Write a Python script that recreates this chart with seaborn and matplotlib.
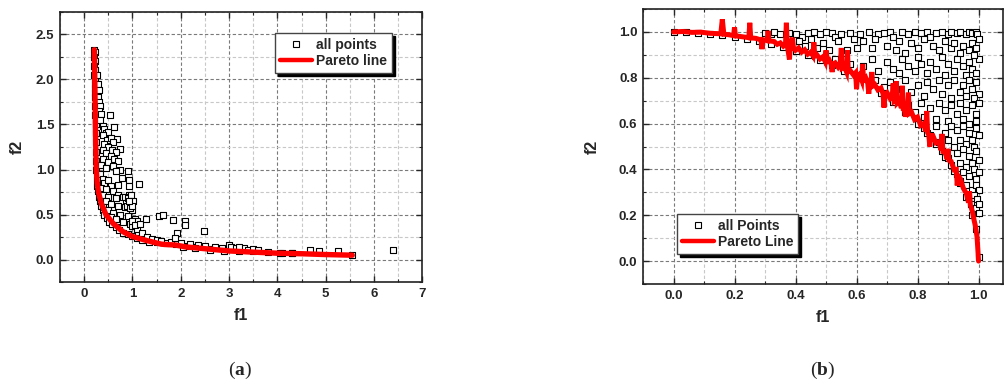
import numpy as np
import pandas as pd
import matplotlib
matplotlib.use("Agg")
import matplotlib.pyplot as plt
from matplotlib.ticker import MultipleLocator
from matplotlib.lines import Line2D
import seaborn as sns

# ---------------- data: panel (a) ----------------
a_pts_f1 = [
    0.21, 0.22, 0.21, 0.22, 0.21, 0.22, 0.21, 0.22, 0.22, 0.23, 0.22, 0.23, 0.23, 0.23,
    0.24, 0.24, 0.24, 0.25, 0.25, 0.25, 0.26, 0.27, 0.28, 0.30, 0.32, 0.35, 0.38, 0.42,
    0.47, 0.52, 0.58, 0.65, 0.72, 0.80, 0.90, 1.00, 1.10, 1.20, 1.35, 1.50, 1.70, 1.90,
    2.10, 2.30, 2.60, 2.90, 3.20, 3.50, 3.80, 4.10, 4.30, 5.55,
    0.27, 0.28, 0.30, 0.29, 0.31, 0.33, 0.30, 0.35, 0.32, 0.54, 0.61, 0.69, 0.75,
    0.38, 0.42, 0.45, 0.50, 0.40, 0.47, 0.55, 0.60, 0.42, 0.50, 0.58, 0.65, 0.38, 0.45,
    0.55, 0.62, 0.40, 0.50, 0.70, 0.35, 0.45, 0.60, 0.75, 0.65,
    0.90, 0.78, 1.13, 0.93, 0.93, 0.71,
    0.33, 0.38, 0.42, 0.50, 0.55, 0.35, 0.45, 0.60, 0.70, 0.40, 0.50, 0.65, 0.80, 0.87,
    0.93, 0.95, 0.45, 0.55, 0.70, 0.85, 0.98, 1.00, 0.40, 0.50, 0.60, 0.75, 0.90, 1.05,
    1.10, 0.55, 0.65, 0.80, 0.95, 1.00, 1.10, 1.20,
    0.85, 0.90, 0.97, 1.02, 0.88, 0.95, 1.00, 0.92, 1.00, 1.05, 1.15,
    1.30, 1.40, 1.50, 1.60, 1.80, 2.00, 2.20, 2.35, 2.50, 2.70, 2.85, 3.00, 3.05, 3.15,
    3.30, 3.40, 3.50, 3.60, 2.05, 2.30, 2.60, 2.90,
    1.28, 1.55, 1.63, 1.84, 2.08, 2.09, 1.93, 1.88, 2.48, 4.67, 4.86, 5.26, 6.39, 4.05,
    4.30, 3.20,
]
a_pts_f2 = [
    2.33, 2.30, 2.25, 2.20, 2.15, 2.10, 2.05, 2.00, 1.95, 1.90, 1.85, 1.80, 1.70, 1.60,
    1.50, 1.40, 1.30, 1.20, 1.10, 1.00, 0.90, 0.82, 0.76, 0.70, 0.65, 0.60, 0.55, 0.50,
    0.46, 0.42, 0.39, 0.36, 0.33, 0.30, 0.28, 0.26, 0.24, 0.22, 0.20, 0.19, 0.18, 0.17,
    0.15, 0.14, 0.12, 0.11, 0.10, 0.09, 0.08, 0.07, 0.07, 0.05,
    2.05, 1.95, 1.88, 1.80, 1.75, 1.70, 1.65, 1.62, 1.55, 1.61, 1.47, 1.34, 1.23,
    1.48, 1.45, 1.40, 1.42, 1.38, 1.33, 1.35, 1.30, 1.28, 1.25, 1.22, 1.20, 1.22, 1.18,
    1.15, 1.12, 1.12, 1.08, 1.10, 1.05, 1.02, 1.04, 1.00, 0.98,
    0.98, 0.91, 0.84, 0.88, 0.82, 0.83,
    0.95, 0.90, 0.85, 0.88, 0.82, 0.80, 0.78, 0.76, 0.72, 0.72, 0.70, 0.68, 0.70, 0.65,
    0.72, 0.62, 0.65, 0.62, 0.60, 0.58, 0.58, 0.55, 0.58, 0.55, 0.52, 0.50, 0.48, 0.45,
    0.43, 0.47, 0.45, 0.42, 0.40, 0.37, 0.34, 0.30,
    0.70, 0.68, 0.72, 0.65, 0.60, 0.57, 0.60, 0.65, 0.43, 0.38, 0.40,
    0.25, 0.23, 0.22, 0.21, 0.20, 0.18, 0.17, 0.16, 0.15, 0.14, 0.13, 0.16, 0.14, 0.13,
    0.13, 0.11, 0.12, 0.11, 0.14, 0.13, 0.11, 0.10,
    0.45, 0.48, 0.49, 0.44, 0.43, 0.38, 0.29, 0.24, 0.32, 0.11, 0.10, 0.09, 0.11, 0.07,
    0.07, 0.14,
]
a_front_f1 = [0.21, 0.22, 0.23, 0.24, 0.25, 0.27, 0.30, 0.35, 0.45, 0.60, 0.80, 1.00,
              1.30, 1.60, 1.90, 2.10, 2.50, 3.00, 3.50, 4.00, 4.50, 5.00, 5.55]
a_front_f2 = [2.33, 2.00, 1.60, 1.25, 1.00, 0.85, 0.74, 0.63, 0.50, 0.40, 0.31, 0.255,
              0.21, 0.17, 0.16, 0.14, 0.12, 0.095, 0.082, 0.07, 0.064, 0.055, 0.048]

# ---------------- data: panel (b) ----------------
b_pts_f1 = [
    # near-front points
    0.00, 0.04, 0.08, 0.12, 0.16, 0.20, 0.24, 0.28, 0.32, 0.36, 0.40, 0.44, 0.48, 0.52,
    0.56, 0.60, 0.64, 0.68, 0.72, 0.76, 0.80, 0.83, 0.86, 0.89, 0.92, 0.94, 0.96, 0.98,
    0.99, 1.00,
    # upper band
    0.30, 0.32, 0.33, 0.35, 0.38, 0.40, 0.42, 0.44, 0.46, 0.48, 0.50, 0.52, 0.53, 0.55,
    0.58, 0.61, 0.64, 0.67, 0.69, 0.71, 0.72, 0.75, 0.77, 0.79, 0.81, 0.83, 0.84, 0.86,
    0.88, 0.90, 0.91, 0.93, 0.94, 0.96, 0.97, 0.98, 0.99, 0.995,
    0.41, 0.43, 0.45, 0.47, 0.49, 0.51, 0.54, 0.56, 0.57, 0.59, 0.60, 0.62, 0.65, 0.66,
    0.70, 0.73, 0.74, 0.76, 0.78, 0.80, 0.82, 0.85, 0.87, 0.89, 0.91, 0.92, 0.94, 0.95,
    0.97, 0.98, 0.99, 1.00,
    0.53, 0.58, 0.62, 0.65, 0.67, 0.70, 0.72, 0.74, 0.75, 0.77, 0.79, 0.80, 0.81, 0.83,
    0.84, 0.86, 0.88, 0.89, 0.90, 0.92, 0.93, 0.95, 0.96, 0.97, 0.98, 0.99, 1.00, 0.985,
    0.66, 0.69, 0.71, 0.73, 0.76, 0.78, 0.80, 0.82, 0.83, 0.85, 0.87, 0.88, 0.90, 0.91,
    0.92, 0.94, 0.95, 0.96, 0.97, 0.98, 0.99, 1.00, 0.985,
    0.77, 0.79, 0.81, 0.82, 0.84, 0.86, 0.87, 0.89, 0.90, 0.91, 0.93, 0.94, 0.95, 0.96,
    0.97, 0.98, 0.99, 1.00, 0.99,
    0.82, 0.84, 0.86, 0.87, 0.89, 0.90, 0.91, 0.92, 0.93, 0.94, 0.95, 0.96, 0.97, 0.98,
    0.99, 1.00, 0.985,
    0.88, 0.90, 0.91, 0.93, 0.94, 0.95, 0.96, 0.97, 0.98, 0.99, 1.00, 0.985,
    0.93, 0.94, 0.95, 0.96, 0.97, 0.98, 0.99, 1.00, 0.99, 1.00,
    0.965, 0.975, 0.985, 0.99, 0.995, 1.00, 1.00,
]
b_pts_f2 = [
    1.000, 0.999, 0.997, 0.993, 0.987, 0.980, 0.971, 0.960, 0.947, 0.933, 0.917, 0.898,
    0.877, 0.854, 0.828, 0.800, 0.768, 0.733, 0.694, 0.650, 0.600, 0.558, 0.510, 0.456,
    0.392, 0.341, 0.280, 0.199, 0.141, 0.020,
    0.995, 0.99, 1.00, 0.99, 0.995, 0.99, 0.98, 0.995, 1.00, 0.99, 1.00, 0.995, 0.98, 0.99,
    0.995, 0.99, 1.00, 0.99, 0.995, 1.00, 0.98, 1.00, 0.99, 1.00, 0.995, 1.00, 0.98, 0.995,
    1.00, 0.99, 1.00, 0.995, 1.00, 0.99, 1.00, 0.995, 1.00, 0.99,
    0.96, 0.94, 0.97, 0.93, 0.95, 0.92, 0.96, 0.91, 0.92, 0.97, 0.93, 0.96, 0.93, 0.97,
    0.94, 0.92, 0.96, 0.91, 0.95, 0.93, 0.97, 0.94, 0.92, 0.96, 0.93, 0.95, 0.91, 0.94,
    0.92, 0.95, 0.93, 0.97,
    0.88, 0.86, 0.85, 0.88, 0.83, 0.87, 0.84, 0.82, 0.88, 0.85, 0.83, 0.89, 0.86, 0.82,
    0.87, 0.84, 0.89, 0.81, 0.86, 0.83, 0.88, 0.85, 0.81, 0.87, 0.84, 0.82, 0.88, 0.90,
    0.79, 0.76, 0.78, 0.75, 0.79, 0.74, 0.77, 0.72, 0.78, 0.75, 0.79, 0.73, 0.77, 0.71,
    0.79, 0.74, 0.77, 0.72, 0.79, 0.75, 0.78, 0.73, 0.71,
    0.68, 0.65, 0.69, 0.63, 0.67, 0.62, 0.69, 0.66, 0.61, 0.68, 0.64, 0.69, 0.62, 0.66,
    0.60, 0.68, 0.64, 0.69, 0.61,
    0.58, 0.55, 0.59, 0.52, 0.56, 0.53, 0.59, 0.50, 0.57, 0.53, 0.59, 0.51, 0.56, 0.53,
    0.58, 0.55, 0.50,
    0.48, 0.45, 0.42, 0.47, 0.43, 0.49, 0.41, 0.46, 0.43, 0.48, 0.44, 0.40,
    0.38, 0.35, 0.39, 0.33, 0.37, 0.31, 0.36, 0.39, 0.33, 0.31,
    0.28, 0.25, 0.29, 0.23, 0.27, 0.25, 0.21,
]
# jagged Pareto line: a band along the front with narrow spikes
b_front_f1 = [
    0.000, 0.030, 0.060, 0.090, 0.120, 0.155, 0.160, 0.165, 0.180, 0.197, 0.200, 0.203,
    0.220, 0.247, 0.250, 0.253, 0.270, 0.287, 0.290, 0.293, 0.307, 0.310, 0.313, 0.330,
    0.340, 0.350, 0.360, 0.367, 0.370, 0.373, 0.380, 0.383, 0.390, 0.393, 0.400, 0.410,
    0.420, 0.430, 0.440, 0.450, 0.457, 0.460, 0.463, 0.470, 0.480, 0.490, 0.497, 0.500,
    0.503, 0.510, 0.517, 0.520, 0.523, 0.530, 0.540, 0.547, 0.550, 0.553, 0.560, 0.567,
    0.570, 0.573, 0.580, 0.590, 0.597, 0.600, 0.603, 0.610, 0.617, 0.620, 0.623, 0.630,
    0.637, 0.640, 0.643, 0.647, 0.650, 0.653, 0.660, 0.670, 0.680, 0.687, 0.690, 0.693,
    0.700, 0.710, 0.717, 0.720, 0.723, 0.727, 0.730, 0.733, 0.740, 0.747, 0.750, 0.753,
    0.757, 0.760, 0.763, 0.767, 0.770, 0.773, 0.780, 0.790, 0.800, 0.810, 0.820, 0.827,
    0.830, 0.833, 0.837, 0.840, 0.843, 0.850, 0.860, 0.870, 0.877, 0.880, 0.883, 0.890,
    0.897, 0.900, 0.903, 0.910, 0.920, 0.927, 0.930, 0.933, 0.940, 0.950, 0.960, 0.967,
    0.970, 0.973, 0.980, 0.985, 0.990, 0.995, 1.000,
]
b_front_f2 = [
    1.000, 1.002, 0.998, 0.999, 0.994, 0.992, 1.055, 0.990, 0.988, 0.984, 1.020, 0.983,
    0.980, 0.975, 1.040, 0.974, 0.972, 0.965, 0.925, 0.966, 0.962, 1.005, 0.961, 0.958,
    0.946, 0.952, 0.938, 0.945, 1.040, 0.940, 0.880, 0.936, 0.975, 0.932, 0.920, 0.930,
    0.912, 0.922, 0.903, 0.912, 0.897, 0.955, 0.895, 0.900, 0.882, 0.892, 0.872, 0.920,
    0.871, 0.878, 0.858, 0.825, 0.860, 0.865, 0.846, 0.858, 0.930, 0.842, 0.848, 0.826,
    0.920, 0.826, 0.830, 0.812, 0.822, 0.750, 0.806, 0.815, 0.790, 0.860, 0.790, 0.800,
    0.775, 0.730, 0.774, 0.780, 0.825, 0.764, 0.770, 0.747, 0.755, 0.730, 0.670, 0.728,
    0.735, 0.710, 0.720, 0.775, 0.700, 0.705, 0.785, 0.690, 0.700, 0.668, 0.765, 0.663,
    0.660, 0.630, 0.656, 0.660, 0.735, 0.644, 0.650, 0.618, 0.628, 0.592, 0.600, 0.566,
    0.655, 0.560, 0.550, 0.500, 0.548, 0.548, 0.516, 0.520, 0.484, 0.555, 0.478, 0.476,
    0.445, 0.490, 0.440, 0.435, 0.398, 0.400, 0.330, 0.372, 0.360, 0.318, 0.295, 0.255,
    0.305, 0.245, 0.215, 0.180, 0.150, 0.105, 0.000,
]

# ---------------- style ----------------
sns.set_style("ticks")
plt.rcParams.update({
    "font.family": ["Liberation Sans", "DejaVu Sans"],
    "font.weight": "bold",
    "axes.labelweight": "bold",
    "xtick.direction": "in",
    "ytick.direction": "in",
    "xtick.top": True,
    "ytick.right": True,
    "mathtext.fontset": "custom",
    "mathtext.rm": "Liberation Serif",
    "mathtext.bf": "Liberation Serif:bold",
})

fig = plt.figure(figsize=(10.05, 3.92), dpi=100)
axA = fig.add_axes([0.0597, 0.2806, 0.3605, 0.6888])
axB = fig.add_axes([0.6398, 0.2755, 0.3582, 0.7015])

PT_KW = dict(marker="s", s=14, facecolor="white", edgecolor="black", linewidth=0.8,
             zorder=3, legend=False)


def style_axes(ax, xmaj, xmin, ymaj, ymin, xlim, ylim):
    ax.set_xlim(*xlim)
    ax.set_ylim(*ylim)
    ax.xaxis.set_major_locator(MultipleLocator(xmaj))
    ax.xaxis.set_minor_locator(MultipleLocator(xmin))
    ax.yaxis.set_major_locator(MultipleLocator(ymaj))
    ax.yaxis.set_minor_locator(MultipleLocator(ymin))
    ax.grid(which="major", color="#7a7a7a", linestyle=(0, (3, 2)), linewidth=0.8, zorder=0)
    ax.grid(which="minor", color="#c8c8c8", linestyle=(0, (3, 2)), linewidth=0.8, zorder=0)
    ax.set_axisbelow(True)
    ax.tick_params(which="major", length=4, width=1.0, labelsize=9.5, pad=4)
    ax.tick_params(which="minor", length=2.5, width=0.8)
    for lab in ax.get_xticklabels() + ax.get_yticklabels():
        lab.set_fontweight("bold")
    for sp in ax.spines.values():
        sp.set_linewidth(1.2)
        sp.set_color("#222222")


def shadow_legend(ax, labels, anchor, fontsize):
    handles = [
        Line2D([], [], marker="s", linestyle="none", markersize=4,
               markerfacecolor="white", markeredgecolor="black", markeredgewidth=0.8),
        Line2D([], [], color="red", linewidth=3.2),
    ]
    leg = ax.legend(handles, labels, loc="upper left", bbox_to_anchor=anchor,
                    borderaxespad=0, fancybox=False, frameon=True, framealpha=1,
                    edgecolor="#444444", facecolor="white",
                    shadow={"color": "black", "alpha": 1.0},
                    prop={"weight": "bold", "size": fontsize},
                    handlelength=2.3, handletextpad=0.3, labelspacing=0.15,
                    borderpad=0.35)
    leg.get_frame().set_linewidth(1.0)
    leg.set_zorder(10)
    return leg


# ---------------- panel (a) ----------------
dfA = pd.DataFrame({"f1": a_pts_f1, "f2": a_pts_f2})
frontA = pd.DataFrame({"f1": a_front_f1, "f2": a_front_f2})
sns.scatterplot(data=dfA, x="f1", y="f2", ax=axA, **PT_KW)
sns.lineplot(data=frontA, x="f1", y="f2", ax=axA, sort=False, estimator=None,
             color="red", linewidth=3.9, zorder=4, legend=False)
style_axes(axA, 1, 0.5, 0.5, 0.25, (-0.5, 7), (-0.25, 2.75))
axA.set_xlabel("f1", fontsize=11.5, fontweight="bold", labelpad=6)
axA.set_ylabel("f2", fontsize=11.5, fontweight="bold", labelpad=8)
shadow_legend(axA, ["all points", "Pareto line"], (0.594, 0.922), 10)

# ---------------- panel (b) ----------------
dfB = pd.DataFrame({"f1": b_pts_f1, "f2": b_pts_f2})
frontB = pd.DataFrame({"f1": b_front_f1, "f2": b_front_f2})
sns.scatterplot(data=dfB, x="f1", y="f2", ax=axB, **PT_KW)
sns.lineplot(data=frontB, x="f1", y="f2", ax=axB, sort=False, estimator=None,
             color="red", linewidth=3.6, zorder=4, legend=False,
             solid_joinstyle="miter")
style_axes(axB, 0.2, 0.1, 0.2, 0.1, (-0.1, 1.08), (-0.1, 1.1))
axB.set_xlabel("f1", fontsize=11.5, fontweight="bold", labelpad=6)
axB.set_ylabel("f2", fontsize=11.5, fontweight="bold", labelpad=14)
shadow_legend(axB, ["all Points", "Pareto Line"], (0.094, 0.2545), 10)

# ---------------- panel captions ----------------
fig.text(0.239, 0.055, r"($\mathbf{a}$)", fontsize=14, fontfamily="Liberation Serif",
         ha="center", va="center", fontweight="normal")
fig.text(0.818, 0.055, r"($\mathbf{b}$)", fontsize=14, fontfamily="Liberation Serif",
         ha="center", va="center", fontweight="normal")

fig.savefig("out.png", dpi=100)
